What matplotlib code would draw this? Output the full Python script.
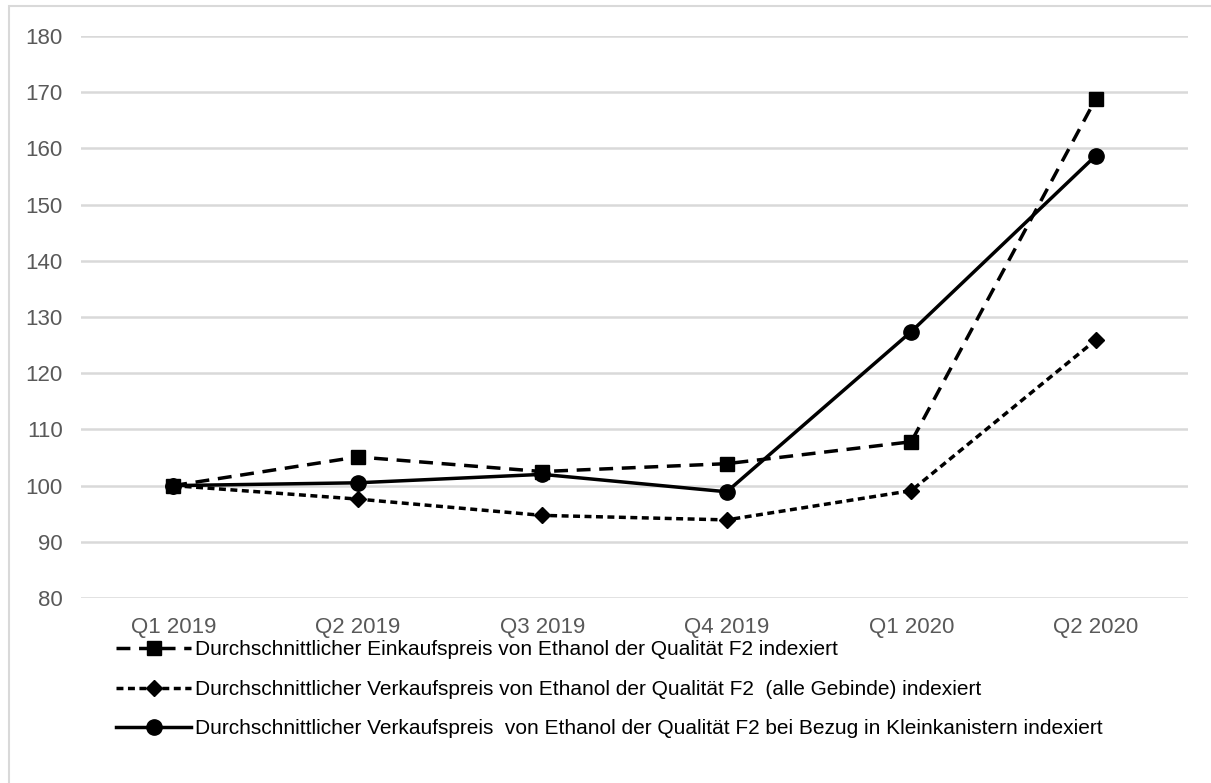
import matplotlib.pyplot as plt
from matplotlib.patches import Rectangle

plt.rcParams['font.family'] = ['Liberation Sans', 'DejaVu Sans']

quartale = ['Q1 2019', 'Q2 2019', 'Q3 2019', 'Q4 2019', 'Q1 2020', 'Q2 2020']
einkauf = [100, 105.1, 102.5, 103.9, 107.8, 168.8]
verkauf_alle = [100, 97.6, 94.7, 93.9, 99.1, 125.9]
verkauf_klein = [100, 100.5, 102.0, 98.9, 127.4, 158.7]

labels = [
    'Durchschnittlicher Einkaufspreis von Ethanol der Qualität F2 indexiert',
    'Durchschnittlicher Verkaufspreis von Ethanol der Qualität F2  (alle Gebinde) indexiert',
    'Durchschnittlicher Verkaufspreis  von Ethanol der Qualität F2 bei Bezug in Kleinkanistern indexiert',
]

W, H = 1211, 783
fig = plt.figure(figsize=(W / 100, H / 100), dpi=100)
ax = fig.add_axes([81 / W, 1 - 598 / H, (1188 - 81) / W, (598 - 36) / H])

# Rahmen um das Diagramm
fig.patches.append(Rectangle((9 / W, -0.1), 1.2, 1 - 6 / H + 0.1, transform=fig.transFigure,
                             fill=False, edgecolor='#d9d9d9', lw=1.5))

x = range(len(quartale))
ax.plot(x, einkauf, color='black', lw=2.5, dashes=(4, 2.5), marker='s', ms=10.5,
        label=labels[0])
ax.plot(x, verkauf_alle, color='black', lw=2.5, dashes=(2, 1.3), marker='D', ms=8,
        label=labels[1])
ax.plot(x, verkauf_klein, color='black', lw=2.5, marker='o', ms=11, label=labels[2])

ax.set_xlim(-0.5, 5.5)
ax.set_ylim(80, 180)
ax.set_yticks(range(80, 181, 10))
ax.set_xticks(list(x))
ax.set_xticklabels(quartale)
ax.grid(axis='y', color='#d9d9d9', lw=1.8)
ax.set_axisbelow(True)
for s in ax.spines.values():
    s.set_visible(False)
ax.tick_params(length=0, labelsize=16, colors='#595959')
ax.tick_params(axis='y', pad=13)
ax.tick_params(axis='x', pad=14)

fig.legend(loc='upper left', bbox_to_anchor=(106 / W, 1 - 630 / H), frameon=False,
           fontsize=15, handlelength=3.6, handletextpad=0.15, labelspacing=0.98,
           borderpad=0)

fig.savefig('out.png', dpi=100)
